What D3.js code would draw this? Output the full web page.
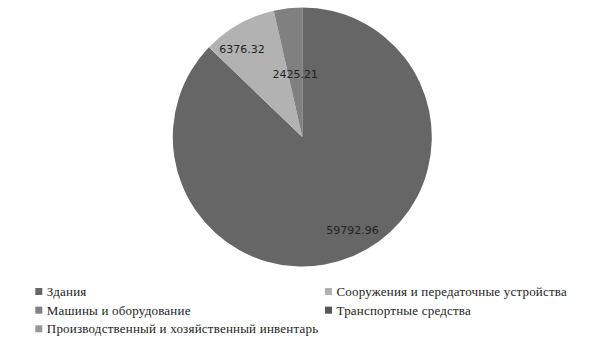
<!DOCTYPE html>
<html>
<head>
<meta charset="utf-8">
<script src="https://cdn.jsdelivr.net/npm/d3@7"></script>
<style>
  body { margin: 0; background: #fff; }
  svg { display: block; }
</style>
</head>
<body>
<svg id="chart" width="605" height="340"></svg>
<script>
const categories = [
  'Здания',
  'Сооружения и передаточные устройства',
  'Машины и оборудование',
  'Транспортные средства',
  'Производственный и хозяйственный инвентарь'
]
const values = [59792.96, 6376.32, 2425.21, 0, 0]
const colors = ['#666666', '#b2b2b2', '#808080', '#555555', '#999999']

const svg = d3.select('#chart')
const cx = 302.3, cy = 137, r = 129.5

const data = categories.map((c, i) => ({ name: c, value: values[i], color: colors[i] }))

const pie = d3.pie().sort(null).value(d => d.value)
const arcs = pie(data)
const total = d3.sum(values)

const arc = d3.arc().innerRadius(0).outerRadius(r)

const g = svg.append('g').attr('transform', `translate(${cx},${cy})`)

g.selectAll('path')
  .data(arcs.filter(d => d.value > 0))
  .join('path')
  .attr('d', arc)
  .attr('fill', d => d.data.color)

// big slices: label near the rim, turned back a little; small ones nearer the centre
const labelPos = d => {
  const small = d.value / total < 0.05
  const lr = small ? r * 0.49 : r * 0.82
  const a = (d.startAngle + d.endAngle) / 2 - (small ? 0 : 0.09)
  return [lr * Math.sin(a), -lr * Math.cos(a)]
}

g.selectAll('text')
  .data(arcs.filter(d => d.value > 0))
  .join('text')
  .attr('x', d => labelPos(d)[0])
  .attr('y', d => labelPos(d)[1])
  .attr('text-anchor', 'middle')
  .attr('dy', '0.35em')
  .attr('font-family', 'DejaVu Sans, sans-serif')
  .attr('font-size', 11)
  .attr('fill', '#222')
  .text(d => d.value.toFixed(2))

// legend, two columns
const colX = d3.scalePoint().domain([0, 1]).range([35.3, 325])
const rowY = d3.scalePoint().domain([0, 1, 2]).range([291.5, 328.8])

const legend = svg.append('g')
  .selectAll('g')
  .data(data)
  .join('g')
  .attr('transform', (d, i) => `translate(${colX(i % 2)},${rowY(Math.floor(i / 2))})`)

legend.append('rect')
  .attr('x', 0)
  .attr('y', -3.5)
  .attr('width', 7)
  .attr('height', 7)
  .attr('fill', d => d.color)

legend.append('text')
  .attr('x', 11.5)
  .attr('y', 0)
  .attr('dy', '0.35em')
  .attr('font-family', "'Liberation Serif', 'Times New Roman', serif")
  .attr('font-size', 13)
  .attr('letter-spacing', 0.2)
  .attr('fill', '#222')
  .text(d => d.name)
</script>
</body>
</html>
